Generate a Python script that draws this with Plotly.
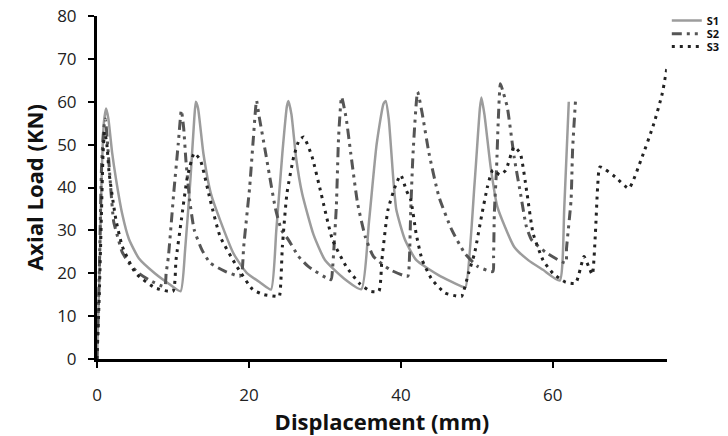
import plotly.graph_objects as go

# ---- data ----
s1_x = [0, 0.3, 0.6, 0.9, 1.2, 1.5, 2.0, 2.5, 3.3, 4.2, 5.5, 7.6, 9.5, 11.0, 11.6, 12.3, 12.8, 13.0, 13.3,
        14.0, 15.0, 16.2, 18.0, 19.7, 21.5, 22.9, 23.6, 24.4, 25.0, 25.2, 25.6, 26.2, 27.0, 28.5, 30.0, 32.5,
        34.8, 35.8, 36.8, 37.7, 38.0, 38.4, 39.0, 39.4, 40.5, 42.0, 45.0, 48.0, 48.5, 49.7, 50.4, 50.6, 51.0,
        51.8, 52.7, 54.9, 56.8, 58.7, 60.9, 61.5, 62.1]
s1_y = [0, 18, 42, 55, 58.4, 56, 48, 42, 34, 28, 23.5, 20, 17.5, 15.8, 25.5, 42, 56, 60, 58.5,
        48, 38.5, 32.4, 24.5, 20.1, 17.8, 16.2, 30, 48, 59, 60.2, 57, 47, 38.6, 29, 23.1, 18.8,
        16.3, 32, 50, 59.5, 60.2, 56, 42, 34.8, 28, 23.1, 19.5, 16.9, 16.7, 41, 58.5, 61, 57,
        45, 35.5, 26.2, 23, 20.8, 18.3, 35, 60]

s2_x = [0, 0.3, 0.6, 0.9, 1.1, 1.4, 1.8, 2.2, 2.7, 3.3, 4.2, 5.5, 6.8, 8.9, 9.1, 9.4, 10.1, 10.7, 11.1,
        11.4, 11.7, 12.2, 12.8, 13.8, 14.9, 16.8, 18.8, 19.1, 19.3, 20.1, 20.6, 21.0, 21.3, 22.2, 23.5,
        24.3, 25.2, 26.5, 27.8, 30.8, 31.0, 31.5, 31.8, 32.2, 32.8, 33.4, 34.3, 35.3, 36.4, 38.6, 40.9,
        41.1, 41.3, 41.6, 42.2, 42.8, 43.7, 45.0, 46.7, 48.4, 50.1, 52.1, 52.2, 52.3, 52.6, 52.8, 53.1,
        53.5, 54.0, 54.9, 55.8, 56.5, 57.2, 59.2, 61.7, 61.8, 62.4, 62.6, 63.0]
s2_y = [0, 20, 45, 54, 56, 50, 40, 32, 28.6, 25, 22.4, 20, 18.5, 16.9, 20, 23.9, 38.7, 50.3, 58,
        54, 46.4, 37, 30.1, 25.5, 22.4, 20.5, 19.3, 20.6, 26, 40.2, 52, 60.3, 57, 48, 35,
        30, 27.8, 24, 21.6, 18.5, 21, 35.5, 51.8, 61.1, 56.1, 48, 36.3, 28.6, 23.9, 20.8, 19.3,
        22.4, 34.8, 48, 62.3, 57.3, 48, 37.9, 30.1, 24.7, 21.6, 20.4, 23.9, 34, 44.8, 54.9, 64.2,
        62, 58.8, 47.2, 38, 31, 27.8, 24.7, 22.4, 25.8, 37.1, 48.8, 60.7]

s3_x = [0, 0.3, 0.6, 0.8, 1.0, 1.3, 1.6, 2.5, 3.35, 5.1, 7.65, 10.0, 10.4, 11.1, 11.9, 12.8, 13.6, 14.9,
        16.2, 18.4, 20.5, 22.0, 23.7, 24.0, 24.4, 25.0, 25.9, 26.6, 27.2, 28.3, 29.5, 31.0, 32.8, 34.5,
        36.0, 37.1, 37.5, 38.3, 39.4, 40.0, 40.7, 41.3, 42.0, 42.8, 44.1, 45.8, 47.6, 48.0, 48.9, 49.7,
        50.6, 51.4, 52.1, 53.0, 53.8, 54.9, 55.7, 56.6, 57.4, 58.7, 60.0, 61.7, 63.0, 64.1, 64.7, 65.2,
        65.6, 65.9, 66.2, 68.2, 70.0, 71.6, 73.3, 74.4, 75.0]
s3_y = [0, 15, 35, 48, 53, 50, 43.3, 32.4, 26.2, 20, 16.6, 15.8, 23.1, 32.4, 42.5, 48, 46.4, 37.1,
        28.6, 21.6, 16.2, 15, 14.6, 14.6, 26.2, 38.6, 47.2, 51, 51.8, 47.2, 38.6, 27.8, 21.6, 17.7,
        15.8, 15.8, 23.1, 34.8, 41, 42.9, 39.4, 37.1, 29.3, 23.1, 18.5, 15.4, 14.6, 14.6, 20, 24.7,
        33.2, 40.2, 44.1, 43, 44, 49.5, 48, 38.6, 29.3, 23.1, 20, 17.9, 17.7, 23.9, 21.6, 19.7,
        29.3, 40.2, 44.8, 42.5, 39.8, 46.4, 54.9, 61.9, 67.7]

x_ticks = [0, 20, 40, 60]
y_ticks = [0, 10, 20, 30, 40, 50, 60, 70, 80]

FONT = "Open Sans"

fig = go.Figure()
fig.add_trace(go.Scatter(x=s1_x, y=s1_y, mode="lines", name="S1", legend="legend",
                         line=dict(color="#9c9c9c", width=2.5, shape="spline", smoothing=0.5)))
fig.add_trace(go.Scatter(x=s2_x, y=s2_y, mode="lines", name="S2", legend="legend2",
                         line=dict(color="#555555", width=3, dash="10px,5px,3px,5px,3px,5px",
                                   shape="spline", smoothing=0.5)))
fig.add_trace(go.Scatter(x=s3_x, y=s3_y, mode="lines", name="S3", legend="legend3",
                         line=dict(color="#222222", width=3, dash="3px,5px",
                                   shape="spline", smoothing=0.5)))

leg_common = dict(x=0.915, xref="container", yref="container", xanchor="left", yanchor="middle",
                  font=dict(family=FONT, size=11, color="#111111", weight="bold"),
                  bgcolor="rgba(0,0,0,0)", itemwidth=30, borderwidth=0)

# page body adds an 8px offset, so the figure is 8px smaller with 8px less left/top margin
fig.update_layout(
    width=720, height=428,
    margin=dict(l=89, r=48, t=8, b=77),
    paper_bgcolor="white", plot_bgcolor="white",
    font=dict(family=FONT, color="#222222"),
    showlegend=True,
    legend=dict(y=0.971, **leg_common),
    legend2=dict(y=0.940, **leg_common),
    legend3=dict(y=0.910, **leg_common),
)
fig.update_xaxes(
    range=[0, 75], tickvals=x_ticks, ticktext=[str(v) for v in x_ticks],
    showline=True, linecolor="black", linewidth=3,
    ticks="outside", ticklen=6, tickwidth=2, tickcolor="black",
    showgrid=False, zeroline=False, automargin=False, ticklabeloverflow="allow",
    tickfont=dict(size=17, color="#222222"), ticklabelstandoff=13,
    title=dict(text="<b>Displacement (mm)</b>", font=dict(size=22, color="#111111"), standoff=6),
)
fig.update_yaxes(
    range=[0, 80], tickvals=y_ticks, ticktext=[str(v) for v in y_ticks],
    showline=True, linecolor="black", linewidth=3,
    ticks="outside", ticklen=6, tickwidth=2, tickcolor="black",
    showgrid=False, zeroline=False, automargin=False, ticklabeloverflow="allow",
    tickfont=dict(size=17, color="#222222"), ticklabelstandoff=8,
    title=dict(text="<b>Axial Load (KN)</b>", font=dict(size=22, color="#111111"), standoff=8),
)

fig.write_html("out.html")
